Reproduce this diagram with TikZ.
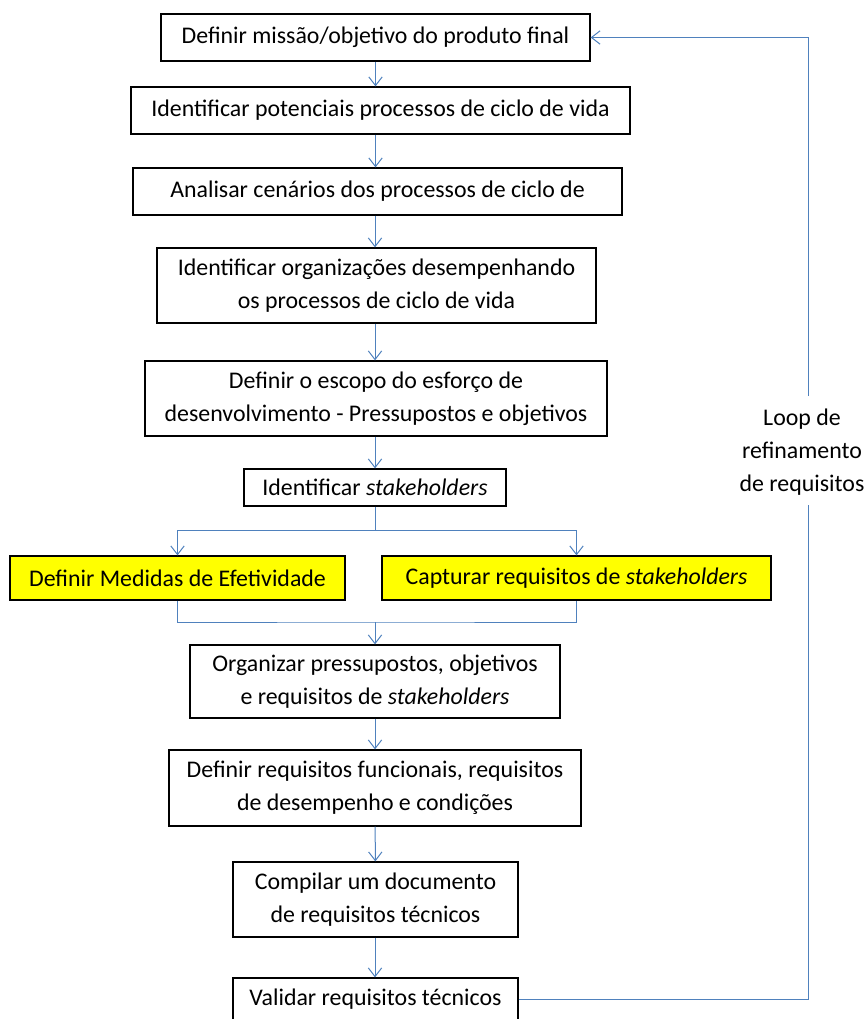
\documentclass[tikz,border=0pt]{standalone}
\usepackage{fontspec}
\setmainfont{Carlito}
\usetikzlibrary{arrows.meta,positioning,calc}
\definecolor{cLink}{RGB}{79,129,189}
\definecolor{cMark}{RGB}{255,255,0}
\tikzset{
	pbox/.style={draw=black, line width=0.9pt, fill=white, align=center,
		inner sep=0pt, font=\fontsize{17.9}{24.5}\selectfont},
	ybox/.style={pbox, fill=cMark},
	link/.style={draw=cLink, line width=0.75pt},
	larr/.style={link, -{Straight Barb[length=6.5pt,width=10pt]}},
}

\begin{document}
\begin{tikzpicture}[x=0.75pt,y=-0.75pt]
	\useasboundingbox (0,0) rectangle (863,1019);
	% main column
	\node[pbox, minimum width=321.75pt, minimum height=35.25pt] (mission) at (375.5,37.5) {Definir missão/objetivo do produto final};
	\node[pbox, minimum width=374.25pt, minimum height=35.25pt] (lifecyc) at (380.5,110.5) {Identificar potenciais processos de ciclo de vida};
	\node[pbox, minimum width=366.75pt, minimum height=35.25pt] (scen) at (377.5,191.5) {Analisar cenários dos processos de ciclo de};
	\node[pbox, minimum width=329.25pt, minimum height=56.25pt] (orgs) at (376.5,285.5) {Identificar organizações desempenhando\\os processos de ciclo de vida};
	\node[pbox, minimum width=346.5pt, minimum height=56.25pt] (scope) at (376,398.5) {Definir o escopo do esforço de\\desenvolvimento - Pressupostos e objetivos};
	\node[pbox, minimum width=196.5pt, minimum height=27.75pt] (stake) at (375,487.5) {Identificar \textit{stakeholders}};
	% the two parallel steps
	\node[ybox, minimum width=251.25pt, minimum height=33pt] (moe) at (177.5,578) {Definir Medidas de Efetividade};
	\node[ybox, minimum width=291.75pt, minimum height=33pt] (capt) at (576.5,578) {Capturar requisitos de \textit{stakeholders}};
	\node[pbox, minimum width=277.5pt, minimum height=54.75pt] (organ) at (375,681.5) {Organizar pressupostos, objetivos\\e requisitos de \textit{stakeholders}};
	\node[pbox, minimum width=309pt, minimum height=57pt] (funcs) at (375,788) {Definir requisitos funcionais, requisitos\\de desempenho e condições};
	\node[pbox, minimum width=213.75pt, minimum height=56.25pt] (trd) at (375.5,899.5) {Compilar um documento\\de requisitos técnicos};
	\node[pbox, minimum width=213.75pt, minimum height=31.5pt] (valid) at (375.5,999) {Validar requisitos técnicos};
	\node[align=center, inner sep=0pt, font=\fontsize{17.9}{24.5}\selectfont]
		(looplbl) at (802,452) {Loop de\\refinamento\\de requisitos};

	\draw[larr] (mission) -- (lifecyc.north -| mission);
	\draw[larr] (lifecyc.south -| mission) -- (scen.north -| mission);
	\draw[larr] (scen.south -| stake) -- (orgs.north -| stake);
	\draw[larr] (orgs.south -| stake) -- (scope.north -| stake);
	\draw[larr] (scope.south -| stake) -- (stake);
	% split and join
	\coordinate (split) at (375,530);
	\coordinate (join) at (375,622);
	\draw[link] (stake.south) -- (split);
	\draw[larr] (split) -| (moe.north);
	\draw[larr] (split) -| (capt.north);
	\draw[link] (moe.south) |- (join) -| (capt.south);
	\draw[larr] (join) -- (organ);
	\draw[larr] (organ) -- (funcs);
	\draw[larr] (funcs) -- (trd);
	\draw[larr] (trd.south -| stake) -- (valid.north -| stake);
	% refinement loop, broken around its label
	\coordinate (loopbot) at (808,505);
	\coordinate (looptop) at (808,396);
	\draw[link] (valid.east) -| (loopbot);
	\draw[larr] (looptop) |- (mission.east);
\end{tikzpicture}
\end{document}
